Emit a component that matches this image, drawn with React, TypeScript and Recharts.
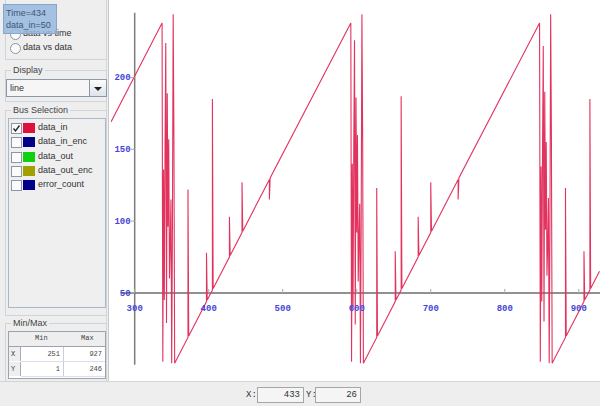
import React from 'react';
import { LineChart, Line, XAxis, YAxis, ReferenceLine, ReferenceDot } from 'recharts';

// ---- data (time, data_in) ----
const leadTimes = [268, 337];
const leadValues = [169, 238];

const burst1Times = [338, 339, 340, 341, 342, 343, 344, 345, 346, 347, 348, 349, 350, 351, 352, 353];
const burst1Values = [2, 136, 45, 150, 224, 29, 189, 96, 157, 60, 85, 115, 1, 95, 244, 159];

const ramp1Times = [354, 372, 372, 373, 397, 397, 398, 405, 405, 406, 428, 428, 429, 445, 445, 446, 482, 482, 483, 592];
const ramp1Values = [1, 19, 122, 20, 44, 78, 45, 52, 185, 53, 75, 103, 76, 92, 127, 93, 129, 115, 130, 238];

const burst2Times = [593, 594, 595, 596, 597, 598, 599, 600, 601, 602, 603, 604, 605, 606, 607, 608];
const burst2Values = [2, 140, 40, 152, 226, 28, 186, 92, 160, 58, 88, 112, 1, 98, 244, 156];

const ramp2Times = [609, 627, 627, 628, 652, 652, 653, 660, 660, 661, 683, 683, 684, 700, 700, 701, 737, 737, 738, 847];
const ramp2Values = [1, 19, 123, 20, 44, 79, 45, 52, 187, 53, 75, 103, 76, 92, 127, 93, 129, 115, 130, 238];

const burst3Times = [848, 849, 850, 851, 852, 853, 854, 855, 856, 857, 858, 859, 860, 861, 862, 863];
const burst3Values = [2, 138, 44, 148, 222, 30, 190, 94, 155, 62, 84, 116, 1, 96, 244, 158];

const ramp3Times = [864, 882, 882, 883, 907, 907, 908, 915, 915, 916, 928];
const ramp3Values = [1, 19, 123, 20, 44, 79, 45, 52, 185, 53, 65];

const xTicks = [300, 400, 500, 600, 700, 800, 900];
const yTicks = [50, 100, 150, 200];

const busNames = ['data_in', 'data_in_enc', 'data_out', 'data_out_enc', 'error_count'];
const busColors = ['#e0103c', '#000088', '#10d010', '#a0a000', '#000088'];
const busChecked = [true, false, false, false, false];

const minMaxRows = ['X', 'Y'];
const minValues = ['251', '1'];
const maxValues = ['927', '246'];

const allTimes = [...leadTimes, ...burst1Times, ...ramp1Times, ...burst2Times, ...ramp2Times, ...burst3Times, ...ramp3Times];
const allValues = [...leadValues, ...burst1Values, ...ramp1Values, ...burst2Values, ...ramp2Values, ...burst3Values, ...ramp3Values];
const data = allTimes.map((t, i) => ({ t, v: allValues[i] }));

const UI = "'Liberation Sans', Arial, sans-serif";
const MONO = "'Liberation Mono', 'DejaVu Sans Mono', monospace";

const TitledBox = ({ top, height, title }: { top: number; height: number; title?: string }) => (
  <div style={{ position: 'absolute', left: 4, top, width: 102, height, border: '1px solid #d0d4d8', boxSizing: 'border-box' }}>
    {title && (
      <span style={{ position: 'absolute', left: 5, top: -7, background: '#eeeeee', padding: '0 2px', fontSize: 9, color: '#444', fontFamily: UI, lineHeight: '12px' }}>{title}</span>
    )}
  </div>
);

export default function App() {
  return (
    <div style={{ position: 'fixed', left: 0, top: 0, width: 600, height: 406, background: '#eeeeee', overflow: 'hidden', fontFamily: UI }}>
      {/* chart area */}
      <div style={{ position: 'absolute', left: 108, top: 0, width: 492, height: 381, background: '#ffffff', borderLeft: '1px solid #c8c8c8', overflow: 'hidden', boxSizing: 'border-box' }}>
        <div style={{ position: 'absolute', left: -1, top: 0 }}>
          <LineChart width={493} height={406} data={data} margin={{ top: 10, right: 0, bottom: 37, left: 3 }}>
            <XAxis dataKey="t" type="number" domain={[268, 930]} hide allowDataOverflow />
            <YAxis type="number" domain={[-3, 247]} hide allowDataOverflow />
            <ReferenceLine segment={[{ x: 300, y: 0 }, { x: 300, y: 245 }]} stroke="#7c7c7c" strokeWidth={1.5} />
            <ReferenceLine segment={[{ x: 281, y: 50 }, { x: 930, y: 50 }]} stroke="#6c6c6c" strokeWidth={1.5} />
            {xTicks.map((t) => (
              <ReferenceDot key={'x' + t} x={t} y={50} r={0} ifOverflow="visible"
                shape={(p: any) => (
                  <g>
                    <line x1={p.cx} y1={p.cy} x2={p.cx} y2={p.cy - 4} stroke="#aaaaaa" />
                    <text x={p.cx} y={p.cy + 18} textAnchor="middle" fontSize={9} fontWeight="bold" fontFamily={MONO} fill="#4646d8">{t}</text>
                  </g>
                )} />
            ))}
            {yTicks.map((v) => (
              <ReferenceDot key={'y' + v} x={300} y={v} r={0} ifOverflow="visible"
                shape={(p: any) => (
                  <g>
                    <line x1={p.cx - 4} y1={p.cy} x2={p.cx} y2={p.cy} stroke="#aaaaaa" />
                    <text x={p.cx - 4} y={p.cy + 3} textAnchor="end" fontSize={9} fontWeight="bold" fontFamily={MONO} fill="#4646d8">{v}</text>
                  </g>
                )} />
            ))}
            <Line dataKey="v" type="linear" stroke="#e2335f" strokeWidth={1.1} dot={false} activeDot={false} isAnimationActive={false} />
          </LineChart>
        </div>
      </div>

      {/* left panel */}
      <div style={{ position: 'absolute', left: 1, top: 0, width: 106, height: 381, background: '#eeeeee', borderRight: '1px solid #d8d8d8', boxSizing: 'border-box' }}>
        <TitledBox top={-2} height={62} />
        <div style={{ position: 'absolute', left: 9, top: 29, width: 9, height: 9, borderRadius: '50%', border: '1px solid #8b97a6', background: '#fafafa' }} />
        <div style={{ position: 'absolute', left: 22, top: 27, fontSize: 9, color: '#333', lineHeight: '12px' }}>data vs time</div>
        <div style={{ position: 'absolute', left: 9, top: 43, width: 9, height: 9, borderRadius: '50%', border: '1px solid #8b97a6', background: '#fafafa' }} />
        <div style={{ position: 'absolute', left: 22, top: 41, fontSize: 9, color: '#333', lineHeight: '12px' }}>data vs data</div>

        <TitledBox top={70} height={32} title="Display" />
        <div style={{ position: 'absolute', left: 5, top: 79, width: 101, height: 18, border: '1px solid #8a98a8', background: '#f6f6f6', boxSizing: 'border-box' }}>
          <span style={{ position: 'absolute', left: 3, top: 2, fontSize: 9, color: '#333', lineHeight: '12px' }}>line</span>
          <div style={{ position: 'absolute', right: 0, top: 0, width: 16, height: 16, borderLeft: '1px solid #8a98a8', background: 'linear-gradient(#fdfdfd, #dce3ea)' }}>
            <svg width={16} height={16} style={{ position: 'absolute', left: 0, top: 0 }}>
              <polygon points="4,7 12,7 8,11" fill="#222" />
            </svg>
          </div>
        </div>

        <TitledBox top={110} height={206} title="Bus Selection" />
        <div style={{ position: 'absolute', left: 7, top: 118, width: 98, height: 190, border: '1px solid #a9b6c4', background: '#efefef', boxSizing: 'border-box' }} />
        {busNames.map((name, i) => (
          <div key={name} style={{ position: 'absolute', left: 10, top: 122 + i * 14.3, height: 12, width: 95 }}>
            <div style={{ position: 'absolute', left: 0, top: 1, width: 9, height: 9, border: '1px solid #8b97a6', background: '#fbfbfb' }}>
              {busChecked[i] && (
                <svg width={9} height={9} style={{ position: 'absolute', left: 0, top: 0 }}>
                  <polyline points="1.5,4.5 3.5,7 7.5,1.5" fill="none" stroke="#222" strokeWidth={1.3} />
                </svg>
              )}
            </div>
            <div style={{ position: 'absolute', left: 12, top: 1, width: 12, height: 10, background: busColors[i] }} />
            <span style={{ position: 'absolute', left: 27, top: -1, fontSize: 9, color: '#333', lineHeight: '12px', whiteSpace: 'nowrap' }}>{name}</span>
          </div>
        ))}

        <TitledBox top={323} height={60} title="Min/Max" />
        <div style={{ position: 'absolute', left: 7, top: 331, width: 98, height: 48, border: '1px solid #9aa4ae', background: '#fff', boxSizing: 'border-box', fontFamily: MONO, fontSize: 7, color: '#444' }}>
          <div style={{ position: 'absolute', left: 0, top: 0, width: 96, height: 14, background: '#eeeeee', borderBottom: '1px solid #9aa4ae' }}>
            <span style={{ position: 'absolute', left: 26, top: 2 }}>Min</span>
            <span style={{ position: 'absolute', left: 72, top: 2 }}>Max</span>
          </div>
          {minMaxRows.map((r, i) => (
            <div key={r} style={{ position: 'absolute', left: 0, top: 15 + i * 15, width: 96, height: 15 }}>
              <div style={{ position: 'absolute', left: 0, top: 0, width: 11, height: 14, background: '#eeeeee', borderRight: '1px solid #aab' }}>
                <span style={{ position: 'absolute', left: 2, top: 3 }}>{r}</span>
              </div>
              <div style={{ position: 'absolute', left: 12, top: 0, width: 42, height: 14, borderRight: '1px solid #ccd', borderBottom: '1px solid #dde', textAlign: 'right' }}>
                <span style={{ position: 'absolute', right: 3, top: 3 }}>{minValues[i]}</span>
              </div>
              <div style={{ position: 'absolute', left: 55, top: 0, width: 41, height: 14, borderBottom: '1px solid #dde', textAlign: 'right' }}>
                <span style={{ position: 'absolute', right: 3, top: 3 }}>{maxValues[i]}</span>
              </div>
            </div>
          ))}
        </div>
      </div>

      {/* tooltip */}
      <div style={{ position: 'absolute', left: 3, top: 4, width: 54, height: 30, background: 'rgba(150,184,222,0.85)', border: '1px solid #88a6cc', boxSizing: 'border-box', fontSize: 9, color: '#3f5478', lineHeight: '12px', padding: '2px 2px' }}>
        <div>Time=434</div>
        <div>data_in=50</div>
      </div>

      {/* status bar */}
      <div style={{ position: 'absolute', left: 0, top: 381, width: 600, height: 25, background: '#eeeeee', borderTop: '1px solid #d4d4d4', boxSizing: 'border-box', fontSize: 9, color: '#333' }}>
        <span style={{ position: 'absolute', left: 246, top: 8, fontFamily: MONO }}>X:</span>
        <div style={{ position: 'absolute', left: 257, top: 5, width: 47, height: 16, border: '1px solid #a6a6a6', background: '#f5f5f5', boxSizing: 'border-box' }}>
          <span style={{ position: 'absolute', right: 3, top: 2, fontFamily: MONO }}>433</span>
        </div>
        <span style={{ position: 'absolute', left: 306, top: 8, fontFamily: MONO }}>Y:</span>
        <div style={{ position: 'absolute', left: 315, top: 5, width: 46, height: 16, border: '1px solid #a6a6a6', background: '#f5f5f5', boxSizing: 'border-box' }}>
          <span style={{ position: 'absolute', right: 3, top: 2, fontFamily: MONO }}>26</span>
        </div>
      </div>
    </div>
  );
}
